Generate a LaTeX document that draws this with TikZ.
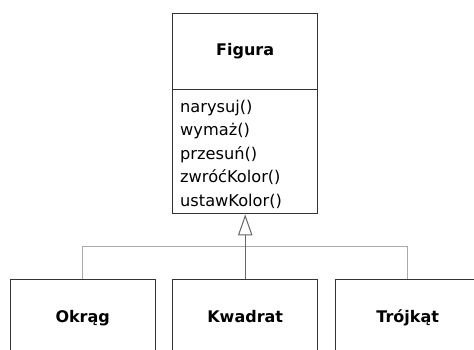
\documentclass[tikz,border=0pt]{standalone}
\usepackage{fontspec}
\setmainfont{DejaVu Sans}
\usetikzlibrary{arrows.meta}
\definecolor{boxline}{HTML}{333333}
\definecolor{busline}{HTML}{AAAAAA}
\definecolor{stemline}{HTML}{666666}
\tikzset{
  classbox/.style={draw=boxline, line width=1.4pt, fill=white, rectangle,
    minimum width=145pt, inner sep=0pt, text height=12pt, text depth=4pt,
    font=\fontsize{16}{19}\selectfont\bfseries},
  opslist/.style={inner sep=0pt, text width=129pt, align=left,
    font=\fontsize{16.2}{23.5}\selectfont},
  bus/.style={draw=busline, line width=1.3pt},
  stem/.style={draw=stemline, line width=1pt},
  inherit/.style={-{Triangle[open, length=21pt, width=14.4pt, line width=1pt]}}
}
\begin{document}
\begin{tikzpicture}[x=1pt, y=-1pt]
\useasboundingbox (0,0) rectangle (474,350);
\clip (0,0) rectangle (474,350);
\fill[white] (0,0) rectangle (474,350);
% class Figura
\node[classbox, minimum height=76pt, anchor=north west] (fig) at (172,13) {Figura};
\node[classbox, minimum height=124pt, anchor=north west] (meth) at (172,89) {};
\node[opslist, anchor=base west] (ops) at (180,112.5)
  {narysuj()\\wymaż()\\przesuń()\\zwróćKolor()\\ustawKolor()};
% subclasses
\node[classbox, minimum height=78pt, anchor=north west] (okr) at (9.5,278.5) {Okrąg};
\node[classbox, minimum height=78pt, anchor=north west] (kw) at (172,278.5) {Kwadrat};
\node[classbox, minimum height=78pt, anchor=north west] (tr) at (334.5,278.5) {Trójkąt};
% connectors
\draw[bus] (okr.north) -- ++(0,-32) coordinate (busl) -| (tr.north);
\draw[stem, inherit] (kw.north) -- (meth.south);
\end{tikzpicture}
\end{document}
